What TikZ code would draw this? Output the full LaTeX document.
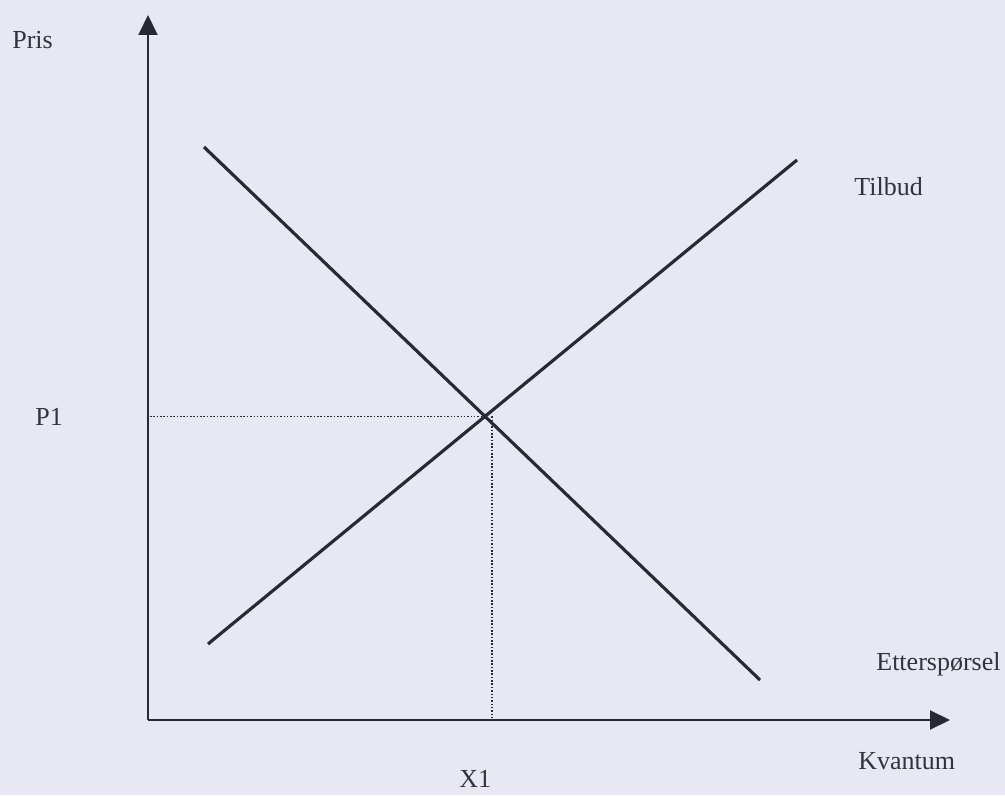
\documentclass[tikz,border=0pt]{standalone}
\usepackage{fontspec}
\setmainfont{Liberation Serif}
\usepackage{xcolor}
\usetikzlibrary{calc,positioning,arrows.meta}
\definecolor{paper}{RGB}{231,232,244}
\definecolor{ink}{RGB}{40,40,55}
\definecolor{textink}{RGB}{50,50,65}

\begin{document}
\begin{tikzpicture}[
  axis/.style={ink, line width=1.1pt, -{Triangle[length=0.4cm, width=0.38cm]}},
  curve/.style={ink, line width=1.8pt},
  guide/.style={ink, densely dotted, line width=0.9pt},
  lab/.style={text=textink, font=\fontsize{14.8}{17}\selectfont, inner sep=0pt, anchor=base west},
]
  % Page (1005 x 795 px, 0.02 cm per px)
  \fill[paper] (0,0) rectangle (20.1,15.9);
  \clip (0,0) rectangle (20.1,15.9);

  % Axes
  \coordinate (O) at (2.96,1.50);
  \coordinate (ytip) at (2.96,15.60);
  \coordinate (xtip) at (19.00,1.50);
  \draw[axis] (O) -- (ytip);
  \draw[axis] (O) -- (xtip);

  % Supply and demand
  \coordinate (tilbudA) at (4.16,3.02);
  \coordinate (tilbudB) at (15.94,12.70);
  \coordinate (ettA) at (4.08,12.96);
  \coordinate (ettB) at (15.20,2.30);
  \draw[curve] (tilbudA) -- (tilbudB);
  \draw[curve] (ettA) -- (ettB);

  % Equilibrium
  \coordinate (eq) at (intersection of tilbudA--tilbudB and ettA--ettB);
  \coordinate (eqx) at ([xshift=0.14cm]eq);
  \draw[guide] (O |- eq) ++(0.04,0) -- (eq);
  \draw[guide] (eqx) -- (eqx |- O);

  % Labels
  \node[lab] (pris) at (0.24,14.92) {Pris};
  \node[lab] (p1) at (0.70,7.38) {P1};
  \node[lab] (tilbud) at (17.08,11.98) {Tilbud};
  \node[lab] (etterspoersel) at (17.52,2.50) {Etterspørsel};
  \node[lab] (kvantum) at (17.16,0.52) {Kvantum};
  \node[lab] (x1) at (9.18,0.16) {X1};
\end{tikzpicture}
\end{document}
